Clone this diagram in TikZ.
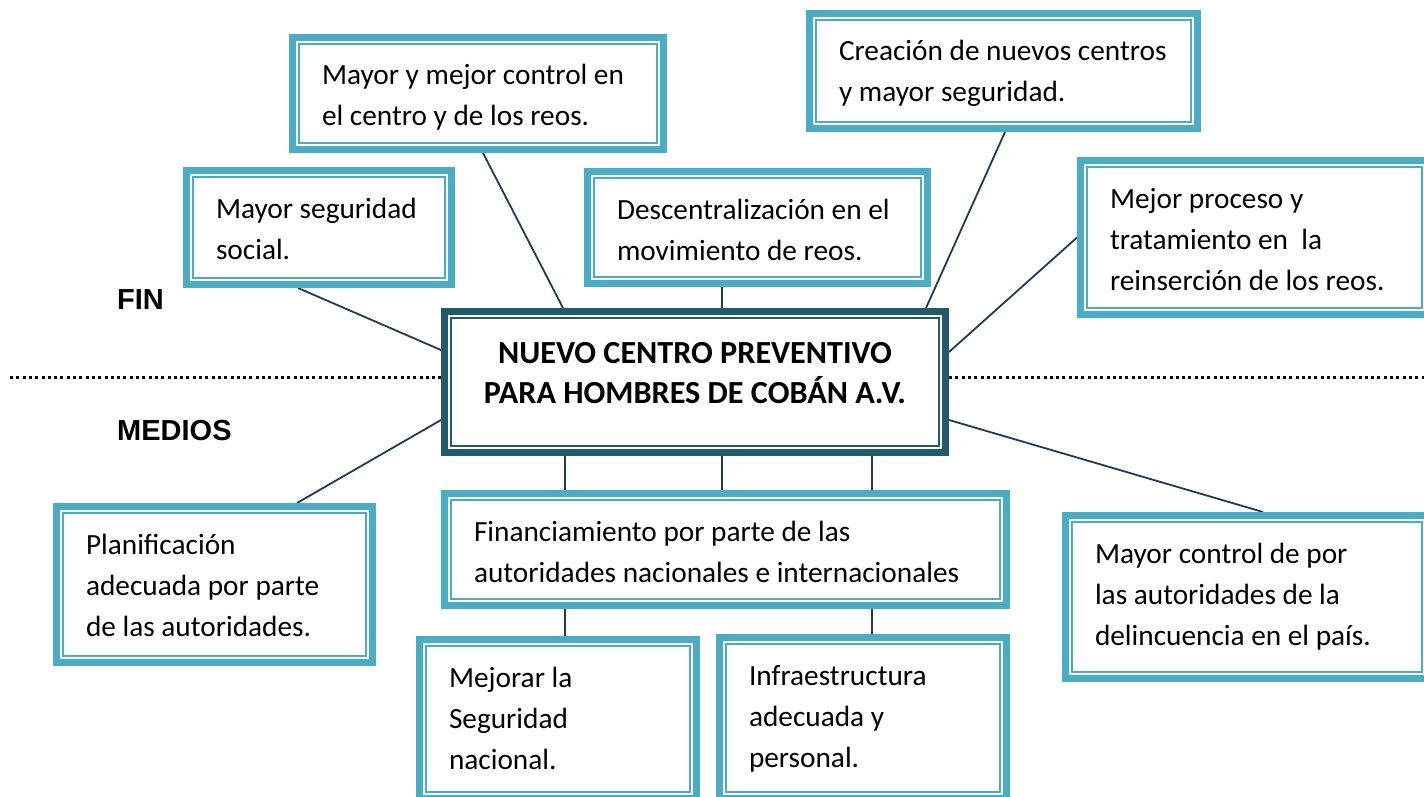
\documentclass[tikz,border=0pt]{standalone}
\usepackage{fontspec}
\setmainfont{Carlito}
\newfontfamily\arial{Liberation Sans}
\usetikzlibrary{backgrounds}
\definecolor{celeste}{HTML}{4BACC6}
\definecolor{petroleo}{HTML}{235A69}
\definecolor{marino}{HTML}{1B3A5C}
\tikzset{
  marco/.style={draw=#1, line width=7pt, fill=white,
    path picture={\draw[#1, line width=2pt]
      ([shift={(6.5pt,-6.5pt)}]path picture bounding box.north west) rectangle
      ([shift={(-6.5pt,6.5pt)}]path picture bounding box.south east);}},
  caja/.style={marco=celeste, inner xsep=29.5pt, inner ysep=0pt, align=flush left,
    text height=47.5pt, font=\fontsize{29.3pt}{41pt}\selectfont},
  central/.style={marco=petroleo, align=flush center, inner xsep=10.5pt, inner ysep=0pt,
    text width=480pt, text height=51.5pt, text depth=89.5pt,
    font=\fontsize{32.2pt}{40pt}\selectfont\bfseries},
  etiqueta/.style={anchor=base west, inner sep=0pt,
    font=\fontsize{29pt}{35pt}\arial\bfseries},
  linea/.style={marino, line width=1.8pt},
  punteado/.style={black, line width=3pt, dash pattern=on 3pt off 3.3pt}
}
\begin{document}
\begin{tikzpicture}[x=1pt,y=-1pt]
      \useasboundingbox (0,0) rectangle (1424,797);
      % caja central
      \node[central] (centro) at (695,382)
        {NUEVO CENTRO PREVENTIVO\\PARA HOMBRES DE COBÁN A.V.};
      % fines
      \node[caja, minimum width=265pt, text width=206pt, text depth=66.5pt] (social) at (319,227.5)
        {Mayor seguridad\\social.};
      \node[caja, minimum width=371pt, text width=312pt, text depth=64.5pt] (control) at (478,93.5)
        {Mayor y mejor control en\\el centro y de los reos.};
      \node[caja, minimum width=340pt, text width=281pt, text depth=64.5pt] (descentral) at (757.5,227.5)
        {Descentralización en el\\movimiento de reos.};
      \node[caja, minimum width=388pt, text width=329pt, text depth=67.5pt] (creacion) at (1003.5,71)
        {Creación de nuevos centros\\y mayor seguridad.};
      \node[caja, minimum width=348pt, text width=289pt, text depth=106.5pt] (proceso) at (1254.5,237.5)
        {Mejor proceso y\\tratamiento en~ la\\reinserción de los reos.};
      % medios
      \node[caja, minimum width=316pt, text width=257pt, text depth=108.5pt] (planif) at (214.5,584.5)
        {Planificación\\adecuada por parte\\de las autoridades.};
      \node[caja, minimum width=562pt, text width=503pt, text depth=64.5pt] (financ) at (725.5,549.5)
        {Financiamiento por parte de las\\autoridades nacionales e internacionales};
      \node[caja, minimum width=363pt, text width=304pt, text depth=115.5pt] (delinc) at (1247,597)
        {Mayor control de por\\las autoridades de la\\delincuencia en el país.};
      \node[caja, minimum width=277pt, text width=218pt, text depth=111.5pt] (segnac) at (558,719)
        {Mejorar la\\Seguridad\\nacional.};
      \node[caja, minimum width=287pt, text width=228pt, text depth=113.5pt] (infra) at (863,718)
        {Infraestructura\\adecuada y\\personal.};
      % FIN y MEDIOS
      \node[etiqueta] (fin) at (117,309) {FIN};
      \node[etiqueta] (medios) at (117,440) {MEDIOS};
      \coordinate (izq) at (10,377);
      \coordinate (der) at (1430,377);
      % lineas por detras de las cajas
      \begin{pgfonlayer}{background}
        \draw[punteado] (izq) -- ([yshift=5pt]centro.west);
        \draw[punteado] ([yshift=5pt]centro.east) -- (der);
        \draw[linea] ([xshift=-21pt]social.south) -- ([yshift=32pt]centro.west);
        \draw[linea] ([xshift=5pt]control.south) -- ([xshift=-132pt]centro.north);
        \draw[linea] ([xshift=-35.5pt]descentral.south) -- ([xshift=27pt]centro.north);
        \draw[linea] ([xshift=1.5pt]creacion.south) -- ([xshift=231pt]centro.north);
        \draw[linea] (proceso.west) -- ([yshift=30pt]centro.east);
        \draw[linea] ([yshift=-38pt]centro.west) -- ([xshift=82.5pt]planif.north);
        \draw[linea] ([yshift=-38pt]centro.east) -- ([xshift=16pt]delinc.north);
        \draw[linea] ([xshift=-130pt]centro.south) -- ([xshift=-160.5pt]financ.north);
        \draw[linea] ([xshift=27pt]centro.south) -- ([xshift=-3.5pt]financ.north);
        \draw[linea] ([xshift=177pt]centro.south) -- ([xshift=146.5pt]financ.north);
        \draw[linea] ([xshift=-160.5pt]financ.south) -- ([xshift=7pt]segnac.north);
        \draw[linea] ([xshift=146.5pt]financ.south) -- ([xshift=9pt]infra.north);
      \end{pgfonlayer}
\end{tikzpicture}
\end{document}
